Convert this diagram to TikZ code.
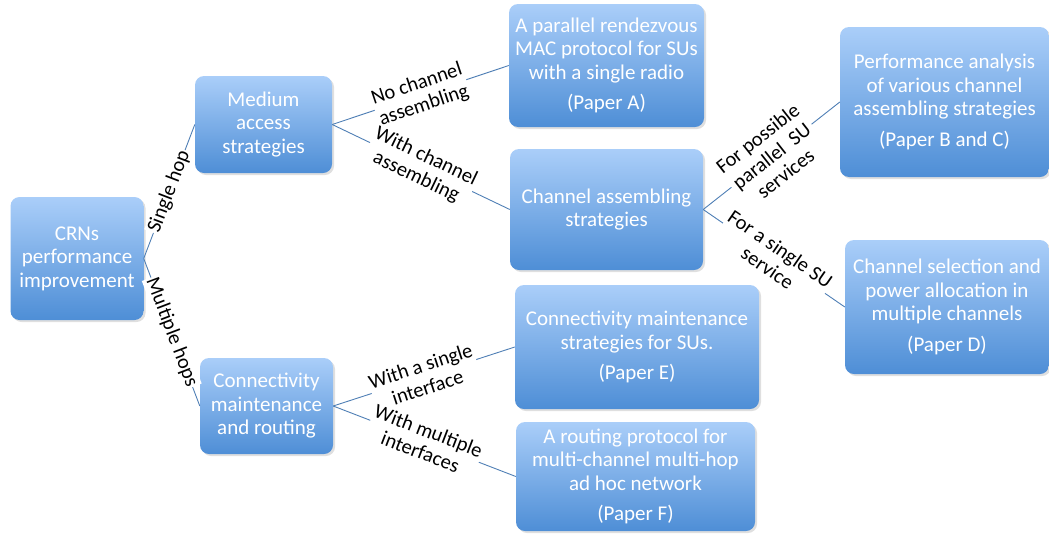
\documentclass[tikz,border=0pt]{standalone}
\usepackage{fontspec}
\setmainfont{Carlito}
\usetikzlibrary{shadows,positioning}
\definecolor{boxtop}{HTML}{AACEF9}
\definecolor{boxbot}{HTML}{4E8ED6}
\definecolor{linec}{HTML}{4F7FB5}
\tikzset{
  box/.style={rectangle, rounded corners=9pt, top color=boxtop, bottom color=boxbot,
    draw=none, text=white, align=center, inner sep=2pt,
    font=\fontsize{21}{23.5}\selectfont,
    drop shadow={opacity=0.25, shadow xshift=2pt, shadow yshift=-2pt}},
  conn/.style={draw=linec, line width=0.9pt},
  lbl/.style={midway, sloped, fill=white, align=center, inner sep=1pt,
    font=\fontsize{20.5}{22.5}\selectfont, text=black}
}
\begin{document}
\begin{tikzpicture}[x=1pt,y=-1pt]
\useasboundingbox (0,0) rectangle (1049,536);
\node[box, minimum width=133pt, minimum height=123pt] (root) at (77,258.5) {CRNs\\performance\\improvement};
\node[box, minimum width=137pt, minimum height=97pt] (mac) at (263.5,124.5) {Medium\\access\\strategies};
\node[box, minimum width=133pt, minimum height=96pt] (conn) at (266.5,406) {Connectivity\\maintenance\\and routing};
\node[box, minimum width=195pt, minimum height=123pt] (pa) at (606.5,65.5) {A parallel rendezvous\\MAC protocol for SUs\\with a single radio\\[7pt](Paper A)};
\node[box, minimum width=193pt, minimum height=121pt] (cas) at (606.5,209.5) {Channel assembling\\strategies};
\node[box, minimum width=209pt, minimum height=150pt] (pbc) at (944.5,102) {Performance analysis\\of various channel\\assembling strategies\\[7pt](Paper B and C)};
\node[box, minimum width=204pt, minimum height=134pt] (pd) at (947,307) {Channel selection and\\power allocation in\\multiple channels\\[7pt](Paper D)};
\node[box, minimum width=244pt, minimum height=124pt] (pe) at (637,347) {Connectivity maintenance\\strategies for SUs.\\[7pt](Paper E)};
\node[box, minimum width=239pt, minimum height=109pt] (pf) at (635.5,476.5) {A routing protocol for\\multi-channel multi-hop\\ad hoc network\\[7pt](Paper F)};

\draw[conn] (root.east) -- node[lbl] {Single hop} (mac.west);
\draw[conn] (root.east) -- node[lbl] {Multiple hops} (conn.west);
\draw[conn] (mac.east) -- node[lbl] {No channel\\assembling} (pa.west);
\draw[conn] (mac.east) -- node[lbl] {With channel\\assembling} (cas.west);
\draw[conn] (cas.east) -- node[lbl] {For possible\\parallel\ \ SU\\services} (pbc.west);
\draw[conn] (cas.east) -- node[lbl] {For a single SU\\service} (pd.west);
\draw[conn] (conn.east) -- node[lbl] {With a single\\interface} (pe.west);
\draw[conn] (conn.east) -- node[lbl] {With multiple\\interfaces} (pf.west);
\end{tikzpicture}
\end{document}
